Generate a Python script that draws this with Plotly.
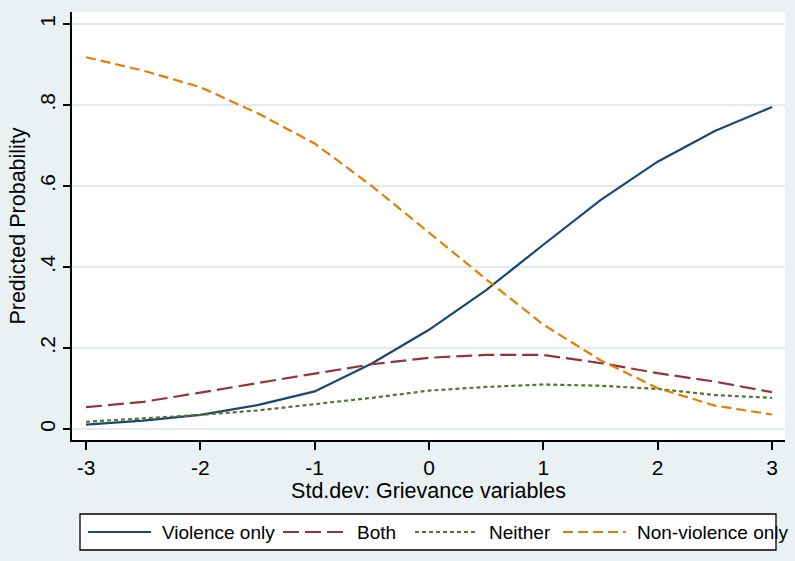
import plotly.graph_objects as go

# Predicted probabilities across the standardized grievance scale
x_vals = [-3, -2.5, -2, -1.5, -1, -0.5, 0, 0.5, 1, 1.5, 2, 2.5, 3]

violence_only = [0.011, 0.021, 0.035, 0.059, 0.093, 0.162, 0.245, 0.343, 0.455, 0.565, 0.660, 0.736, 0.795]
both = [0.054, 0.067, 0.090, 0.114, 0.137, 0.160, 0.176, 0.183, 0.183, 0.163, 0.138, 0.117, 0.091]
neither = [0.018, 0.026, 0.035, 0.046, 0.061, 0.077, 0.095, 0.104, 0.110, 0.107, 0.099, 0.084, 0.077]
nonviolence_only = [0.918, 0.885, 0.844, 0.780, 0.705, 0.600, 0.485, 0.370, 0.258, 0.170, 0.101, 0.058, 0.036]

series_names = ["Violence only", "Both", "Neither", "Non-violence only"]
series_values = [violence_only, both, neither, nonviolence_only]
series_colors = ["#1a476f", "#90353b", "#55752f", "#e37e00"]
series_dash = ["solid", "16px,6px", "4px,3px", "10px,5px"]

y_tick_vals = [0, 0.2, 0.4, 0.6, 0.8, 1]
y_tick_text = ["0", ".2", ".4", ".6", ".8", "1"]
x_tick_vals = [-3, -2, -1, 0, 1, 2, 3]
x_tick_text = ["-3", "-2", "-1", "0", "1", "2", "3"]

BG = "#eaf1f3"
GRID = "#e2ebee"
FONT = "Liberation Sans, Arial, sans-serif"

W, H = 795, 561
M_L, M_R, M_T, M_B = 72, 10, 12, 121
PW, PH = W - M_L - M_R, H - M_T - M_B


def px_x(px):
    return (px - M_L) / PW


def px_y(py):
    return (H - M_B - py) / PH


fig = go.Figure()
for name, vals, color, dash in zip(series_names, series_values, series_colors, series_dash):
    fig.add_trace(go.Scatter(
        x=x_vals, y=vals, mode="lines", name=name,
        line=dict(color=color, width=2.2, dash=dash),
        showlegend=False,
    ))

# Boxed legend row beneath the axis title
shapes = [dict(
    type="rect", xref="paper", yref="paper",
    x0=px_x(80), x1=px_x(776), y0=px_y(550), y1=px_y(514),
    line=dict(color="black", width=1.3), fillcolor="white", layer="below",
)]
annotations = []
sample_starts = [88, 283, 415, 563]
legend_mid = 532
for name, color, dash, sx in zip(series_names, series_colors, series_dash, sample_starts):
    shapes.append(dict(
        type="line", xref="paper", yref="paper",
        x0=px_x(sx), x1=px_x(sx + 63), y0=px_y(legend_mid), y1=px_y(legend_mid),
        line=dict(color=color, width=2.2, dash=dash),
    ))
    annotations.append(dict(
        xref="paper", yref="paper", x=px_x(sx + 72), y=px_y(legend_mid),
        xanchor="left", yanchor="middle", text=name, showarrow=False,
        font=dict(family=FONT, size=19, color="black"),
    ))

fig.update_layout(
    width=W, height=H, autosize=False,
    margin=dict(l=M_L, r=M_R, t=M_T, b=M_B),
    paper_bgcolor=BG, plot_bgcolor="white",
    font=dict(family=FONT, color="black"),
    shapes=shapes, annotations=annotations,
    xaxis=dict(
        range=[-3.1225, 3.114], tickvals=x_tick_vals, ticktext=x_tick_text,
        ticks="outside", ticklen=8, tickwidth=1.5, tickcolor="black",
        showline=True, linecolor="black", linewidth=1.5,
        showgrid=False, zeroline=False,
        tickfont=dict(size=21, family=FONT, color="black"),
        title=dict(text="Std.dev: Grievance variables", font=dict(size=21.5, family=FONT, color="black"), standoff=2),
    ),
    yaxis=dict(
        range=[-0.027, 1.0296], tickvals=y_tick_vals, ticktext=y_tick_text, tickangle=-90,
        ticks="outside", ticklen=7, tickwidth=1.5, tickcolor="black",
        showline=True, linecolor="black", linewidth=1.5,
        showgrid=True, gridcolor=GRID, gridwidth=1.5, zeroline=False,
        tickfont=dict(size=21, family=FONT, color="black"),
        title=dict(text="Predicted Probability", font=dict(size=21.5, family=FONT, color="black"), standoff=4),
    ),
)

fig.write_html("out.html")
